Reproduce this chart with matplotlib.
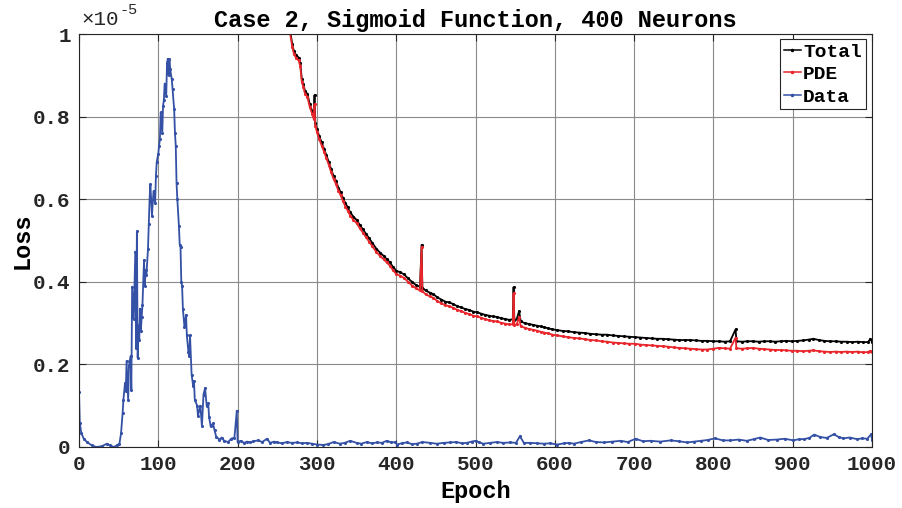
import matplotlib
matplotlib.use("Agg")
import matplotlib.pyplot as plt
from matplotlib.lines import Line2D

# loss values in units of 1e-5
data_epoch = [0, 1, 3, 6, 10, 16, 22, 29, 35, 39, 44, 48, 51, 53, 55, 56, 58, 59, 60, 62,
              63, 65, 66, 67, 69, 70, 71, 72, 73, 74, 75, 76, 77, 78, 79, 80, 82, 83, 84, 85,
              87, 88, 89, 90, 92, 94, 96, 97, 98, 100, 101, 102, 103, 105, 106, 107, 108, 110, 111, 112,
              113, 114, 115, 117, 118, 120, 121, 122, 123, 124, 126, 127, 128, 129, 130, 131, 133, 135, 136, 138,
              139, 140, 142, 144, 145, 146, 149, 150, 153, 155, 157, 159, 161, 163, 164, 166, 169, 171, 173, 177,
              180, 183, 188, 192, 196, 199, 200, 204, 208, 212, 216, 220, 226, 231, 237, 241, 246, 250, 256, 262,
              268, 275, 281, 287, 294, 300, 308, 314, 321, 329, 335, 342, 350, 356, 363, 369, 376, 382, 388, 394,
              399, 401, 407, 413, 420, 426, 433, 443, 451, 460, 468, 476, 483, 489, 495, 500, 505, 510, 518, 527,
              535, 544, 551, 556, 561, 569, 577, 586, 594, 603, 612, 618, 624, 633, 643, 652, 662, 672, 683, 692,
              702, 711, 721, 733, 746, 756, 767, 776, 784, 793, 802, 812, 821, 832, 842, 851, 859, 869, 880, 890,
              901, 908, 914, 921, 927, 935, 943, 952, 958, 964, 972, 981, 988, 994, 999, 1000]
data_loss = [0.132, 0.057, 0.033, 0.02, 0.012, 0.004, 0.0, 0.002, 0.008, 0.004, 0.0, 0.004, 0.008, 0.033, 0.082, 0.114, 0.155, 0.135, 0.208, 0.114,
             0.196, 0.22, 0.139, 0.388, 0.31, 0.39, 0.473, 0.24, 0.522, 0.216, 0.294, 0.26, 0.335, 0.28, 0.314, 0.343, 0.453, 0.39, 0.428, 0.416,
             0.48, 0.54, 0.6, 0.636, 0.56, 0.62, 0.59, 0.656, 0.69, 0.71, 0.73, 0.745, 0.81, 0.76, 0.826, 0.84, 0.88, 0.85, 0.93, 0.94,
             0.9, 0.94, 0.915, 0.89, 0.866, 0.818, 0.76, 0.73, 0.64, 0.6, 0.535, 0.49, 0.485, 0.4, 0.39, 0.335, 0.29, 0.32, 0.27, 0.23,
             0.22, 0.27, 0.175, 0.147, 0.16, 0.115, 0.1, 0.075, 0.1, 0.05, 0.127, 0.143, 0.1, 0.106, 0.073, 0.05, 0.057, 0.04, 0.025, 0.018,
             0.023, 0.015, 0.012, 0.02, 0.023, 0.088, 0.012, 0.015, 0.01, 0.013, 0.011, 0.014, 0.016, 0.012, 0.02, 0.01, 0.013, 0.011, 0.009, 0.012,
             0.01, 0.011, 0.009, 0.01, 0.008, 0.006, 0.005, 0.007, 0.012, 0.008, 0.01, 0.015, 0.01, 0.008, 0.012, 0.009, 0.011, 0.01, 0.015, 0.011,
             0.012, 0.006, 0.009, 0.011, 0.007, 0.008, 0.012, 0.01, 0.008, 0.01, 0.011, 0.012, 0.009, 0.01, 0.013, 0.015, 0.011, 0.008, 0.01, 0.012,
             0.01, 0.011, 0.01, 0.026, 0.01, 0.01, 0.009, 0.008, 0.009, 0.006, 0.009, 0.01, 0.008, 0.012, 0.016, 0.012, 0.011, 0.013, 0.015, 0.012,
             0.02, 0.014, 0.015, 0.013, 0.016, 0.014, 0.011, 0.013, 0.015, 0.017, 0.021, 0.016, 0.016, 0.018, 0.015, 0.019, 0.023, 0.017, 0.018, 0.02,
             0.016, 0.019, 0.019, 0.022, 0.03, 0.024, 0.022, 0.031, 0.024, 0.021, 0.023, 0.019, 0.021, 0.02, 0.031, 0.018]

loss_epoch = [262, 266, 269, 271, 274, 277, 279, 281, 283, 285, 288, 291, 294, 296, 297, 298, 300, 303, 306, 309,
              312, 315, 318, 321, 324, 327, 330, 333, 336, 339, 342, 346, 350, 354, 358, 362, 366, 370, 375, 380,
              384, 388, 392, 396, 400, 405, 410, 415, 420, 425, 430, 432, 433, 437, 442, 447, 452, 457, 462, 467,
              472, 477, 482, 487, 492, 497, 502, 507, 512, 517, 522, 527, 532, 537, 542, 547, 548, 549, 552, 555,
              557, 562, 567, 572, 577, 582, 587, 592, 597, 603, 610, 617, 624, 631, 638, 645, 652, 659, 666, 673,
              680, 687, 694, 701, 708, 715, 722, 729, 736, 743, 750, 757, 764, 771, 778, 785, 792, 800, 807, 814,
              821, 828, 829, 836, 843, 850, 857, 864, 871, 878, 885, 892, 899, 906, 913, 920, 926, 933, 940, 947,
              954, 961, 968, 975, 982, 989, 995, 998, 1000]
total_loss = [1.04, 1.01, 0.975, 0.958, 0.948, 0.943, 0.93, 0.89, 0.878, 0.862, 0.855, 0.83, 0.814, 0.8, 0.852, 0.785, 0.77, 0.752, 0.738, 0.722,
              0.706, 0.69, 0.672, 0.656, 0.645, 0.628, 0.617, 0.602, 0.59, 0.58, 0.568, 0.558, 0.55, 0.538, 0.527, 0.516, 0.505, 0.494, 0.48, 0.47,
              0.463, 0.455, 0.447, 0.436, 0.427, 0.423, 0.418, 0.408, 0.4, 0.392, 0.388, 0.489, 0.386, 0.379, 0.374, 0.37, 0.362, 0.357, 0.352, 0.35,
              0.346, 0.341, 0.338, 0.334, 0.332, 0.328, 0.326, 0.323, 0.32, 0.318, 0.316, 0.315, 0.312, 0.31, 0.308, 0.309, 0.387, 0.307, 0.31, 0.329,
              0.304, 0.3, 0.298, 0.296, 0.294, 0.292, 0.29, 0.287, 0.285, 0.283, 0.281, 0.28, 0.278, 0.277, 0.276, 0.274, 0.273, 0.272, 0.272, 0.27,
              0.269, 0.268, 0.267, 0.266, 0.265, 0.264, 0.263, 0.262, 0.262, 0.261, 0.26, 0.259, 0.259, 0.259, 0.258, 0.257, 0.257, 0.256, 0.256, 0.255,
              0.256, 0.285, 0.256, 0.255, 0.256, 0.256, 0.255, 0.256, 0.256, 0.255, 0.256, 0.257, 0.256, 0.257, 0.258, 0.26, 0.262, 0.259, 0.257, 0.256,
              0.256, 0.255, 0.255, 0.254, 0.255, 0.254, 0.254, 0.262, 0.255]
pde_loss = [1.035, 1.004, 0.968, 0.952, 0.941, 0.936, 0.922, 0.884, 0.871, 0.855, 0.848, 0.823, 0.807, 0.794, 0.83, 0.778, 0.763, 0.745, 0.73, 0.715,
            0.699, 0.683, 0.665, 0.649, 0.637, 0.621, 0.609, 0.595, 0.582, 0.572, 0.56, 0.55, 0.542, 0.53, 0.519, 0.508, 0.497, 0.486, 0.472, 0.462,
            0.455, 0.447, 0.439, 0.428, 0.419, 0.415, 0.409, 0.4, 0.391, 0.384, 0.379, 0.485, 0.377, 0.37, 0.365, 0.361, 0.353, 0.348, 0.343, 0.341,
            0.337, 0.332, 0.329, 0.325, 0.322, 0.318, 0.316, 0.313, 0.31, 0.307, 0.305, 0.304, 0.301, 0.299, 0.297, 0.297, 0.372, 0.295, 0.297, 0.315,
            0.292, 0.289, 0.286, 0.284, 0.282, 0.279, 0.277, 0.275, 0.272, 0.27, 0.268, 0.266, 0.264, 0.263, 0.261, 0.259, 0.258, 0.256, 0.255, 0.253,
            0.252, 0.251, 0.25, 0.25, 0.248, 0.247, 0.246, 0.245, 0.244, 0.243, 0.241, 0.24, 0.239, 0.238, 0.237, 0.236, 0.236, 0.238, 0.24, 0.239,
            0.238, 0.265, 0.239, 0.238, 0.239, 0.24, 0.238, 0.237, 0.236, 0.235, 0.235, 0.234, 0.233, 0.233, 0.232, 0.233, 0.234, 0.232, 0.231, 0.23,
            0.231, 0.23, 0.231, 0.23, 0.231, 0.229, 0.23, 0.233, 0.231]

x_ticks = list(range(0, 1001, 100))
y_ticks = [0, 0.2, 0.4, 0.6, 0.8, 1]
y_tick_labels = ["0", "0.2", "0.4", "0.6", "0.8", "1"]

MONO = ["Liberation Mono", "DejaVu Sans Mono"]
plt.rcParams["font.family"] = MONO
plt.rcParams["font.weight"] = "bold"

BLUE = "#3451a6"
RED = "#e8262c"
BLACK = "#000000"

fig = plt.figure(figsize=(9.02, 5.08), dpi=100)
ax = fig.add_axes([79 / 902, 61 / 508, 793 / 902, 413 / 508])

line_kw = dict(linewidth=1.3, marker=".", markersize=2.5)
ax.plot(loss_epoch, total_loss, color=BLACK, **line_kw)
ax.plot(loss_epoch, pde_loss, color=RED, **line_kw)
ax.plot(data_epoch, data_loss, color=BLUE, **line_kw)

ax.set_xlim(0, 1000)
ax.set_ylim(0, 1)
ax.set_xticks(x_ticks)
ax.set_yticks(y_ticks)
ax.set_yticklabels(y_tick_labels)
ax.tick_params(direction="in", length=5, width=0.8, top=True, right=True,
               labelsize=15, colors="#262626", pad=6)
for lab in ax.get_xticklabels() + ax.get_yticklabels():
    lab.set_fontweight("bold")
ax.grid(True, color="#8a8a8a", linewidth=0.8)
ax.set_axisbelow(True)
for sp in ax.spines.values():
    sp.set_color("#262626")
    sp.set_linewidth(0.8)

ax.set_xlabel("Epoch", fontsize=17, fontweight="bold", labelpad=4)
ax.set_ylabel("Loss", fontsize=17, fontweight="bold", labelpad=0)
ax.set_title("Case 2, Sigmoid Function, 400 Neurons", fontsize=17,
             fontweight="bold", pad=5)

# exponent shown MATLAB-style above the y axis
fig.text(81 / 902, 1 - 25 / 508, "×10", fontsize=15, fontweight="normal",
         color="#262626")
fig.text(120 / 902, 1 - 14 / 508, "-5", fontsize=11, fontweight="normal",
         color="#262626")

handles = [Line2D([], [], color=c, linewidth=1.1, marker=".", markersize=3)
           for c in (BLACK, RED, BLUE)]
leg = ax.legend(handles, ["Total", "PDE", "Data"], loc="upper right",
                bbox_to_anchor=(0.997, 0.997), frameon=True,
                fancybox=False, framealpha=1, edgecolor="#262626",
                handlelength=0.9, handletextpad=0.1, borderpad=0.2,
                labelspacing=0.25, borderaxespad=0.2,
                prop={"family": MONO, "weight": "bold", "size": 14})
leg.get_frame().set_linewidth(0.8)

fig.savefig("out.png", dpi=100)
